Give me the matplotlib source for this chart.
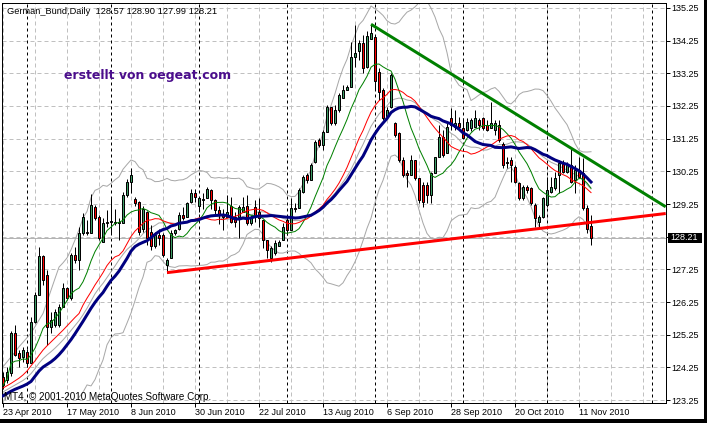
import numpy as np
import pandas as pd
import matplotlib
matplotlib.use("Agg")
import matplotlib.pyplot as plt
from matplotlib.patches import Rectangle

# ---------------- data ----------------
opens = [123.95,123.86,124.07,125.31,124.68,124.58,124.73,124.37,125.65,126.46,
         127.66,127.08,125.50,125.55,125.55,126.10,126.67,126.36,127.69,127.53,
         128.35,128.40,128.35,129.17,128.86,128.10,128.66,128.71,128.70,128.70,
         128.66,129.52,129.93,129.40,129.30,128.50,129.00,128.40,127.95,128.30,
         128.30,127.38,127.59,128.35,128.50,128.91,128.86,129.32,129.60,129.20,
         129.38,129.42,129.68,129.37,129.07,128.95,128.86,129.20,128.86,128.86,
         129.00,129.19,128.66,129.17,129.00,128.76,128.15,127.59,127.74,127.95,
         128.15,128.75,128.45,129.12,129.12,129.63,130.14,129.98,130.55,131.20,
         131.05,131.46,132.23,131.72,132.13,132.49,132.74,132.84,133.76,133.92,
         134.17,133.45,134.29,134.37,133.30,132.74,131.93,132.23,131.72,131.41,
         130.60,130.19,130.14,130.60,130.04,129.83,129.83,129.53,130.19,130.70,
         131.31,130.80,131.87,131.62,131.72,131.57,131.52,131.57,131.62,131.82,
         131.87,131.67,131.57,131.52,131.67,131.10,130.55,130.60,130.39,129.88,
         129.42,129.78,129.73,129.22,128.71,128.86,129.22,129.63,129.73,130.14,
         130.49,130.24,130.44,129.98,130.29,130.19,129.12,128.57]
highs = [124.10,124.27,125.35,125.55,124.78,124.88,124.80,125.80,126.56,127.94,
         127.70,127.23,125.95,126.05,126.20,126.82,126.72,127.74,127.94,128.55,
         128.96,128.76,129.57,129.22,128.91,128.81,129.07,129.43,129.10,128.81,
         129.63,130.00,130.34,129.45,129.35,129.20,129.05,128.60,128.40,128.50,
         128.35,127.59,128.45,128.50,129.00,129.15,129.30,129.70,129.72,129.47,
         129.60,129.77,129.72,129.40,129.20,129.10,129.52,129.47,129.01,129.22,
         129.47,129.52,128.91,129.37,129.42,128.76,128.15,127.95,128.15,128.15,
         128.66,128.85,129.42,129.27,129.73,130.14,130.20,130.49,131.21,131.26,
         131.52,132.28,132.23,132.28,132.64,132.89,132.89,134.22,134.73,134.27,
         134.43,134.53,134.73,134.43,133.40,132.79,132.23,133.25,131.77,131.46,
         130.70,130.29,130.75,130.60,130.04,129.93,129.93,130.24,130.70,131.67,
         131.52,131.72,132.18,132.13,131.92,131.87,131.87,131.87,132.13,131.87,
         131.92,131.82,132.38,131.82,131.82,131.16,130.70,130.70,130.44,129.93,
         129.83,129.83,129.78,129.27,128.91,129.47,130.09,130.09,130.24,130.60,
         130.60,130.55,130.95,130.44,130.70,130.65,129.22,128.90]
lows = [123.60,123.76,124.00,124.60,124.27,124.42,124.27,124.37,125.60,126.46,
        126.77,124.93,125.30,125.50,125.50,126.10,126.30,126.30,127.43,127.23,
        128.30,128.30,128.35,128.76,128.15,128.10,128.56,128.36,128.60,128.15,
        128.66,129.45,129.58,129.20,128.30,128.40,128.00,127.85,127.90,128.00,
        127.64,127.13,127.59,128.30,128.45,128.75,128.86,129.27,129.30,129.00,
        129.10,129.42,129.10,128.90,128.65,128.45,128.86,128.66,128.56,128.20,
        129.00,128.61,128.61,128.71,128.56,127.90,127.60,127.48,127.69,127.95,
        128.15,128.30,128.45,129.02,129.12,129.58,129.90,129.98,130.49,131.00,
        130.90,131.46,131.67,131.67,132.08,132.49,132.74,132.84,133.45,133.66,
        133.25,133.40,134.29,132.74,132.43,131.82,131.87,132.18,131.31,130.55,
        130.09,129.78,130.14,129.98,129.27,129.17,129.27,129.27,130.19,130.70,
        130.70,130.80,131.52,131.52,131.62,131.26,131.47,131.47,131.62,131.52,
        131.52,131.47,131.57,131.36,131.16,130.34,130.34,129.93,129.88,129.37,
        129.37,129.58,129.22,128.56,128.56,128.81,129.17,129.58,129.68,129.58,
        130.19,130.19,129.88,129.58,130.04,129.07,128.35,127.99]
closes = [123.70,124.12,125.31,124.63,124.53,124.78,124.37,125.65,126.46,127.66,
          126.92,125.50,125.70,125.95,126.10,126.67,126.36,127.69,127.53,128.35,
          128.86,128.35,129.22,128.81,128.20,128.66,128.71,128.74,128.67,128.66,
          129.52,129.93,130.14,129.27,128.40,129.10,128.20,127.95,128.30,128.20,
          127.69,127.54,128.35,128.45,128.91,128.81,129.27,129.58,129.45,129.42,
          129.40,129.70,129.37,129.07,128.91,128.86,129.02,128.70,128.70,129.17,
          129.17,128.66,128.81,128.86,128.81,128.15,127.84,127.90,128.05,128.10,
          128.56,128.45,129.12,129.10,129.68,130.08,129.98,130.44,131.16,131.05,
          131.46,132.23,131.72,132.13,132.59,132.74,132.84,133.76,133.86,134.17,
          133.40,134.39,134.49,133.00,132.69,131.87,132.13,133.20,131.36,130.60,
          130.14,130.14,130.60,130.04,129.37,129.32,129.53,130.19,130.70,131.31,
          130.75,131.62,131.67,131.72,131.62,131.26,131.77,131.82,131.87,131.67,
          131.57,131.52,131.72,131.72,131.21,130.44,130.50,130.45,129.93,129.42,
          129.78,129.68,129.27,128.81,128.86,129.42,129.68,129.78,130.04,130.49,
          130.24,130.44,129.93,130.29,130.09,129.12,128.50,128.21]

# indicator values at the left edge (history before the first bar is off-chart),
# read from the picture for the bars where the averaging window is not yet full
blue_ma_start = [123.38,123.45,123.52,123.58,123.63,123.68,123.74,123.82,123.98,124.14,
                 124.26,124.34,124.42,124.52,124.64,124.78,124.94,125.10,125.28,125.47,
                 125.66,125.86,126.06,126.24,126.40]
red_ma_start = [123.62,123.69,123.76,123.84,123.92,124.02,124.14,124.30,124.45,124.62,
                124.78,124.91,125.03,125.15,125.27,125.39,125.52,125.65,125.78]
silver_ma_start = [123.50,123.57,123.64,123.71,123.78,123.85,123.94,124.06,124.21,124.38,
                   124.52,124.63,124.73,124.84,124.96,125.09,125.23,125.38,125.53,125.68,
                   125.86,126.06]
upper_band_start = [124.27,124.42,124.57,124.72,124.88,125.02,125.16,125.30,125.50,125.70,
                    125.90,126.26,126.62,126.97,127.32,127.45,127.60,127.85,128.15]

date_labels = ["23 Apr 2010", "17 May 2010", "8 Jun 2010", "30 Jun 2010", "22 Jul 2010",
               "13 Aug 2010", "6 Sep 2010", "28 Sep 2010", "20 Oct 2010", "11 Nov 2010"]
date_label_bars = [0, 16, 32, 48, 64, 80, 96, 112, 128, 144]
month_separator_bars = [6, 27, 49, 71, 93, 115, 136, 162.25]
price_levels = [135.25, 134.25, 133.25, 132.25, 131.25, 130.25, 129.25,
                128.25, 127.25, 126.25, 125.25, 124.25, 123.25]
price_labels = ["135.25", "134.25", "133.25", "132.25", "131.25", "130.25", "129.25",
                "", "127.25", "126.25", "125.25", "124.25", "123.25"]
last_price = 128.21
header_text = "German_Bund,Daily  128.57 128.90 127.99 128.21"
watermark_text = "erstellt von oegeat.com"
copyright_text = "MT4, \u00a9 2001-2010 MetaQuotes Software Corp."
green_trend_bars = [92, 123]
green_trend_prices = [134.75, 132.40]
red_trend_bars = [41, 123]
red_trend_prices = [127.15, 128.34]

# ---------------- figure ----------------
W, H = 707, 423
fig = plt.figure(figsize=(W / 100, H / 100), dpi=100)
fig.patch.set_facecolor("white")
ax_l, ax_r, ax_t, ax_b = 1.7, 665.7, 2.7, 402.7
ax = fig.add_axes([ax_l / W, 1 - ax_b / H, (ax_r - ax_l) / W, (ax_b - ax_t) / H])
ax.set_facecolor("white")
XMIN, XMAX = -0.33, 165.67
YMIN, YMAX = 123.17, 135.41
ax.set_xlim(XMIN, XMAX)
ax.set_ylim(YMIN, YMAX)

PX = 0.72  # one pixel in points
FONT = "Liberation Sans"

n = len(closes)
x = np.arange(n)
o = np.array(opens); h = np.array(highs); l = np.array(lows); c = np.array(closes)

for lv in price_levels:
    ax.axhline(lv, color="#c0c0c0", lw=PX, ls=(0, (4, 3)), zorder=0)
for gx in range(0, 170, 8):
    ax.axvline(gx, color="#c0c0c0", lw=PX, ls=(0, (4, 3)), zorder=0)
for sx in month_separator_bars:
    ax.axvline(sx, color="black", lw=PX, ls=(0, (3, 3)), zorder=0.5)

ax.axhline(last_price, color="#b4b4b4", lw=PX, zorder=0.6)

cs = pd.Series(c)
ma_green = cs.rolling(10, min_periods=1).mean().to_numpy()
ma_red = cs.rolling(20).mean().to_numpy()
ma_silver = cs.rolling(23).mean().to_numpy()
ma_blue = cs.rolling(26).mean().to_numpy()
sd = cs.rolling(20).std(ddof=0).to_numpy()
bb_up = ma_red + 2 * sd
bb_dn = ma_red - 2 * sd
ma_red[:len(red_ma_start)] = red_ma_start
ma_silver[:len(silver_ma_start)] = silver_ma_start
ma_blue[:len(blue_ma_start)] = blue_ma_start
bb_up[:len(upper_band_start)] = upper_band_start
# lower band lies below the visible range before its window fills (left NaN)

silver = "#a8a8a8"
ax.plot(x, bb_up, color=silver, lw=PX, zorder=1)
ax.plot(x, bb_dn, color=silver, lw=PX, zorder=1)
ax.plot(x, ma_silver, color=silver, lw=PX, zorder=1)

ax.vlines(x, l, h, color="black", lw=PX, zorder=2)
bull = c >= o
body_col = np.where(bull, "#3c9c64", "#ff0000")
ax.bar(x, np.abs(c - o), bottom=np.minimum(o, c), width=0.72, color=body_col,
       edgecolor="black", linewidth=PX, zorder=3)

ax.plot(x, ma_green, color="#008000", lw=PX, zorder=4)
ax.plot(x, ma_red, color="#ff0000", lw=PX, zorder=4)
ax.plot(x, ma_blue, color="#000080", lw=3 * PX, zorder=5)

def extend(bars, prices):
    s = (prices[1] - prices[0]) / (bars[1] - bars[0])
    return [bars[0], XMAX], [prices[0], prices[0] + s * (XMAX - bars[0])]

gx_, gy_ = extend(green_trend_bars, green_trend_prices)
ax.plot(gx_, gy_, color="#008000", lw=3 * PX, zorder=6, solid_capstyle="butt")
rx_, ry_ = extend(red_trend_bars, red_trend_prices)
ax.plot(rx_, ry_, color="#ff0000", lw=3 * PX, zorder=6, solid_capstyle="butt")

for sp in ax.spines.values():
    sp.set_color("black")
    sp.set_linewidth(PX)
ax.yaxis.tick_right()
ax.set_yticks(price_levels)
ax.set_yticklabels(price_labels)
ax.set_xticks(date_label_bars)
ax.set_xticklabels(date_labels)
ax.tick_params(axis="y", direction="out", length=4 * PX, width=PX, pad=1.5,
               labelsize=6.5, colors="black")
ax.tick_params(axis="x", direction="out", length=4 * PX, width=PX, pad=1.2,
               labelsize=6.5, colors="black")
for t in ax.get_xticklabels():
    t.set_horizontalalignment("left")
    t.set_fontfamily(FONT)
for t in ax.get_yticklabels():
    t.set_fontfamily(FONT)

ytr = ax.get_yaxis_transform()
ax.add_patch(Rectangle((1 + 2.0 / 664, last_price - 0.16), 34.0 / 664, 0.32,
                       transform=ytr, facecolor="black", edgecolor="none",
                       clip_on=False, zorder=10))
ax.text(1 + 5.0 / 664, last_price, f"{last_price:.2f}", transform=ytr, color="white",
        fontsize=6.5, fontfamily=FONT, va="center", ha="left", clip_on=False, zorder=11)

fig.text(7 / W, 1 - 11 / H, header_text, fontsize=6.7, fontfamily=FONT,
         va="center", ha="left", color="black")
fig.text(64 / W, 1 - 76 / H, watermark_text, fontsize=9, fontfamily="DejaVu Sans",
         fontweight="bold", va="center", ha="left", color="#4b0e8c")
fig.text(4 / W, 1 - 396.5 / H, copyright_text, fontsize=7.1, fontfamily=FONT,
         va="center", ha="left", color="black")

fig.patches.append(Rectangle((0, 0), 1, 4 / H, transform=fig.transFigure,
                             facecolor="black", edgecolor="none"))
fig.patches.append(Rectangle((1 - 3 / W, 0), 3 / W, 1, transform=fig.transFigure,
                             facecolor="black", edgecolor="none"))

fig.savefig("out.png", dpi=100)
